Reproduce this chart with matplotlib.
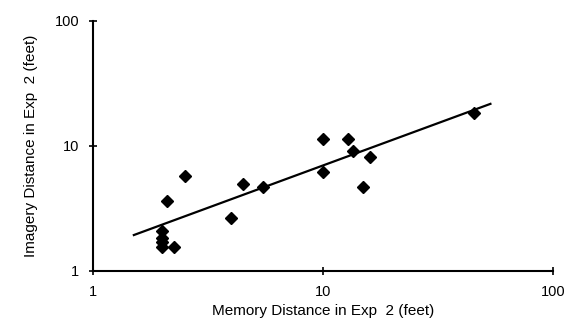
import numpy as np
import matplotlib
matplotlib.use("Agg")
import matplotlib.pyplot as plt

# memory vs imagery distance, Exp 2 (feet)
memory_dist = [45.4, 10.0, 12.9, 13.5, 16.0, 10.0, 15.0, 5.5, 4.5, 2.5, 2.1, 4.0,
               2.0, 2.0, 2.0, 2.0, 2.25]
imagery_dist = [18.3, 11.3, 11.3, 9.2, 8.2, 6.2, 4.7, 4.7, 5.0, 5.75, 3.6, 2.65,
                2.1, 1.85, 1.7, 1.57, 1.57]

# power-law fit: imagery = a * memory ** b
fit_a = 1.47
fit_b = 0.677
fit_range = [1.49, 54.0]

tick_vals = [1, 10, 100]
tick_labels = ["1", "10", "100"]

plt.rcParams['font.family'] = ['Liberation Sans', 'DejaVu Sans']

fig = plt.figure(figsize=(5.69, 3.23), dpi=100)
ax = fig.add_axes([0.1634, 0.161, 0.8085, 0.774])

fx = np.array(fit_range)
ax.plot(fx, fit_a * fx ** fit_b, color='black', linewidth=1.6, solid_capstyle='butt')
ax.plot(memory_dist, imagery_dist, marker='D', linestyle='None', markersize=6.5,
        color='black')

ax.set_xscale('log')
ax.set_yscale('log')
ax.set_xlim(1, 100)
ax.set_ylim(1, 100)
ax.minorticks_off()
ax.set_xticks(tick_vals)
ax.set_xticklabels(tick_labels)
ax.set_yticks(tick_vals)
ax.set_yticklabels(tick_labels)
ax.tick_params(direction='inout', length=6, width=1.2, labelsize=10.5, pad=7)

ax.spines['top'].set_visible(False)
ax.spines['right'].set_visible(False)
ax.spines['left'].set_linewidth(1.5)
ax.spines['bottom'].set_linewidth(1.5)

ax.set_xlabel("Memory Distance in Exp  2 (feet)", fontsize=11, labelpad=4)
ax.set_ylabel("Imagery Distance in Exp  2 (feet)", fontsize=11, labelpad=12)

fig.savefig("out.png", dpi=100)
